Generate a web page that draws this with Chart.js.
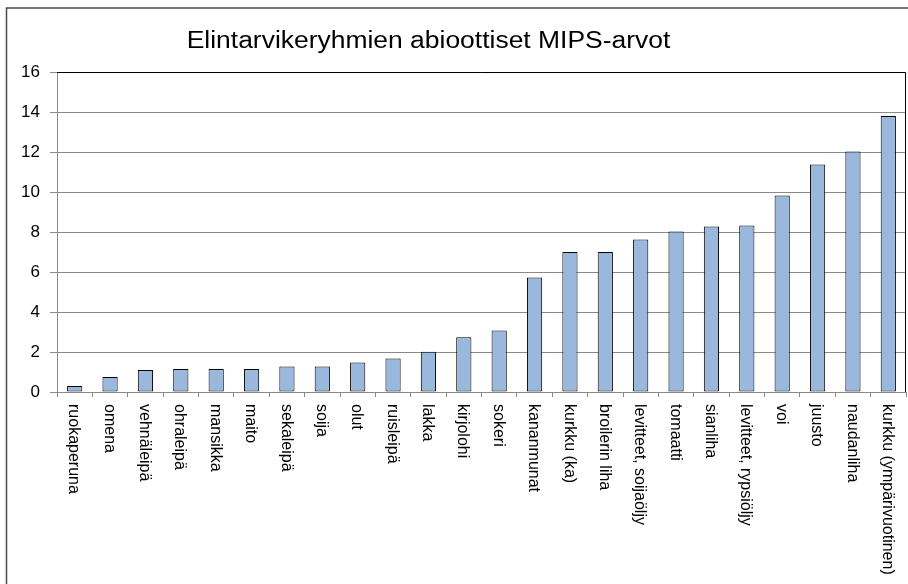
<!DOCTYPE html>
<html>
<head>
<meta charset="utf-8">
<script src="https://cdn.jsdelivr.net/npm/chart.js@4"></script>
<style>
  html, body { margin: 0; padding: 0; background: #fff; }
  #wrap { width: 908px; height: 584px; position: relative; }
</style>
</head>
<body>
<div id="wrap"><canvas id="c" width="908" height="584"></canvas></div>
<script>
const titleText = "Elintarvikeryhmien abioottiset MIPS-arvot";
const categories = [
  "ruokaperuna", "omena", "vehnäleipä", "ohraleipä", "mansikka", "maito",
  "sekaleipä", "soija", "olut", "ruisleipä", "lakka", "kirjolohi",
  "sokeri", "kananmunat", "kurkku (ka)", "broilerin liha", "levitteet, soijaöljy", "tomaatti",
  "sianliha", "levitteet, rypsiöljy", "voi", "juusto", "naudanliha", "kurkku (ympärivuotinen)"
];
const values = [
  0.3, 0.75, 1.1, 1.15, 1.15, 1.15,
  1.28, 1.28, 1.48, 1.68, 2.01, 2.74,
  3.08, 5.73, 7.0, 7.0, 7.63, 8.03,
  8.27, 8.33, 9.83, 11.37, 12.03, 13.8
];
const yTicks = [0, 2, 4, 6, 8, 10, 12, 14, 16];

const FONT = "'Liberation Sans', Arial, sans-serif";

const decor = {
  id: 'decor',
  beforeDraw(chart) {
    const ctx = chart.ctx;
    ctx.save();
    ctx.fillStyle = '#fff';
    ctx.fillRect(0, 0, chart.width, chart.height);
    ctx.strokeStyle = '#4a4a4a';
    ctx.lineWidth = 1.5;
    ctx.strokeRect(6.5, 8, 1000, 1000);
    ctx.restore();
  },
  afterDraw(chart) {
    const ctx = chart.ctx;
    const a = chart.chartArea;
    ctx.save();
    ctx.strokeStyle = '#000';
    ctx.lineWidth = 1;
    ctx.beginPath();
    ctx.moveTo(a.left, a.top + 0.5);
    ctx.lineTo(a.right - 0.5, a.top + 0.5);
    ctx.lineTo(a.right - 0.5, a.bottom);
    ctx.stroke();
    ctx.fillStyle = '#000';
    ctx.font = "23px " + FONT;
    ctx.textAlign = 'center';
    ctx.textBaseline = 'alphabetic';
    ctx.translate(428.5, 47.5);
    ctx.scale(1.15, 1);
    ctx.fillText(titleText, 0, 0);
    ctx.restore();
    const xs = chart.scales.x;
    ctx.save();
    ctx.fillStyle = '#000';
    ctx.font = "16px " + FONT;
    ctx.textAlign = 'left';
    ctx.textBaseline = 'middle';
    categories.forEach((lab, i) => {
      const x = xs.getPixelForValue(i);
      ctx.save();
      ctx.translate(x - 1, 404);
      ctx.rotate(Math.PI / 2);
      ctx.fillText(lab, 0, 0);
      ctx.restore();
    });
    ctx.restore();
  }
};

new Chart(document.getElementById('c'), {
  type: 'bar',
  data: {
    labels: categories,
    datasets: [{
      data: values,
      backgroundColor: '#99b8dc',
      borderColor: '#000',
      borderWidth: 1,
      borderSkipped: false,
      barPercentage: 0.43,
      categoryPercentage: 1.0
    }]
  },
  options: {
    responsive: false,
    animation: false,
    devicePixelRatio: 1,
    layout: { padding: { top: 72, right: 2, left: 0, bottom: 0 } },
    plugins: {
      legend: { display: false },
      title: { display: false },
      tooltip: { enabled: false }
    },
    scales: {
      x: {
        offset: true,
        grid: { display: true, drawOnChartArea: false, offset: true, color: '#8a8a8a', tickLength: 5 },
        border: { display: true, color: '#8a8a8a' },
        ticks: { display: false },
        afterFit(scale) { scale.height = 192; }
      },
      y: {
        min: 0,
        max: 16,
        afterBuildTicks(scale) { scale.ticks = yTicks.map(v => ({ value: v })); },
        ticks: { color: '#000', font: { family: FONT, size: 17 }, padding: 10 },
        grid: { color: '#8a8a8a', tickLength: 7 },
        border: { display: true, color: '#8a8a8a' },
        afterFit(scale) { scale.width = 57; }
      }
    }
  },
  plugins: [decor]
});
</script>
</body>
</html>
